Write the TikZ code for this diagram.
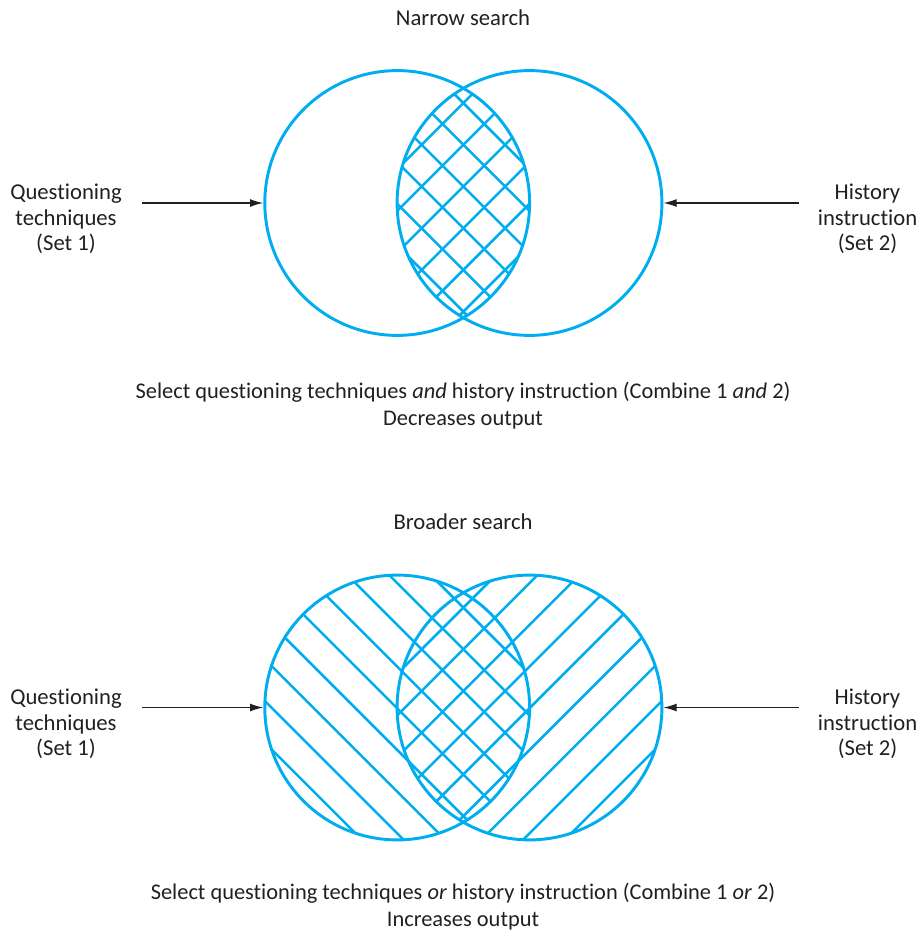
\documentclass[tikz,border=0pt]{standalone}
\usepackage{fontspec}
\setmainfont{Carlito}[Ligatures=NoCommon]
\usetikzlibrary{arrows.meta}
\definecolor{venn}{RGB}{0,174,239}
\definecolor{ink}{RGB}{35,31,32}
\begin{document}
\begin{tikzpicture}[x=0.75pt,y=-0.75pt,
  lbl/.style={font=\fontsize{17}{19}\selectfont, text=ink, align=center, inner sep=0pt},
  captext/.style={font=\fontsize{16.8}{20.25}\selectfont, text=ink, align=center, inner sep=0pt},
  ring/.style={circle, draw=venn, line width=2.2pt, minimum size=198.6pt, inner sep=0pt},
  hatch/.style={draw=venn, line width=1.9pt},
  feedl/.style={draw=ink, line width=1pt, -{Latex[length=10pt,width=6pt]}, shorten <=15pt},
  feedr/.style={draw=ink, line width=1pt, -{Latex[length=10pt,width=6pt]}, shorten <=14pt}]
\useasboundingbox (0,0) rectangle (919,931);

% ---------- top: narrow search ----------
\begin{scope}
  \clip (397.2,203) circle (132.4);
  \clip (529.5,203) circle (132.4);
  \foreach \k in {-8,...,8}{
    \pgfmathsetmacro\c{-16.5+41.7*\k}
    \draw[hatch] (463.35-250, 203+\c-250) -- (463.35+250, 203+\c+250);
    \draw[hatch] (463.35-250, 203+\c+250) -- (463.35+250, 203+\c-250);
  }
\end{scope}
\node[ring] (L1) at (397.2,203) {};
\node[ring] (R1) at (529.5,203) {};

\node[lbl] (t1) at (463,18) {Narrow search};
\node[lbl] (Q1) at (66,219) {Questioning\\techniques\\(Set 1)};
\node[lbl] (H1) at (867.5,219) {History\\instruction\\(Set 2)};
\draw[feedl] (Q1.east |- L1.west) -- (L1.west);
\draw[feedr] (H1.west |- R1.east) -- (R1.east);
\node[captext] (c1) at (463,405.5) {Select questioning techniques \textit{and} history instruction (Combine 1 \textit{and} 2)\\Decreases output};

% ---------- bottom: broader search ----------
\begin{scope}
  \clip (397.2,707.5) circle (132.4);
  \foreach \k in {-12,...,12}{
    \pgfmathsetmacro\c{-16.5+41.7*\k}
    \draw[hatch] (463.35-400, 707.5+\c-400) -- (463.35+400, 707.5+\c+400);
  }
\end{scope}
\begin{scope}
  \clip (529.5,707.5) circle (132.4);
  \foreach \k in {-12,...,12}{
    \pgfmathsetmacro\c{-16.5+41.7*\k}
    \draw[hatch] (463.35-400, 707.5+\c+400) -- (463.35+400, 707.5+\c-400);
  }
\end{scope}
\node[ring] (L2) at (397.2,707.5) {};
\node[ring] (R2) at (529.5,707.5) {};

\node[lbl] (t2) at (463,522) {Broader search};
\node[lbl] (Q2) at (66,724) {Questioning\\techniques\\(Set 1)};
\node[lbl] (H2) at (867.5,724) {History\\instruction\\(Set 2)};
\draw[feedl] (Q2.east |- L2.west) -- (L2.west);
\draw[feedr] (H2.west |- R2.east) -- (R2.east);
\node[captext] (c2) at (463,907) {Select questioning techniques \textit{or} history instruction (Combine 1 \textit{or} 2)\\Increases output};
\end{tikzpicture}
\end{document}
